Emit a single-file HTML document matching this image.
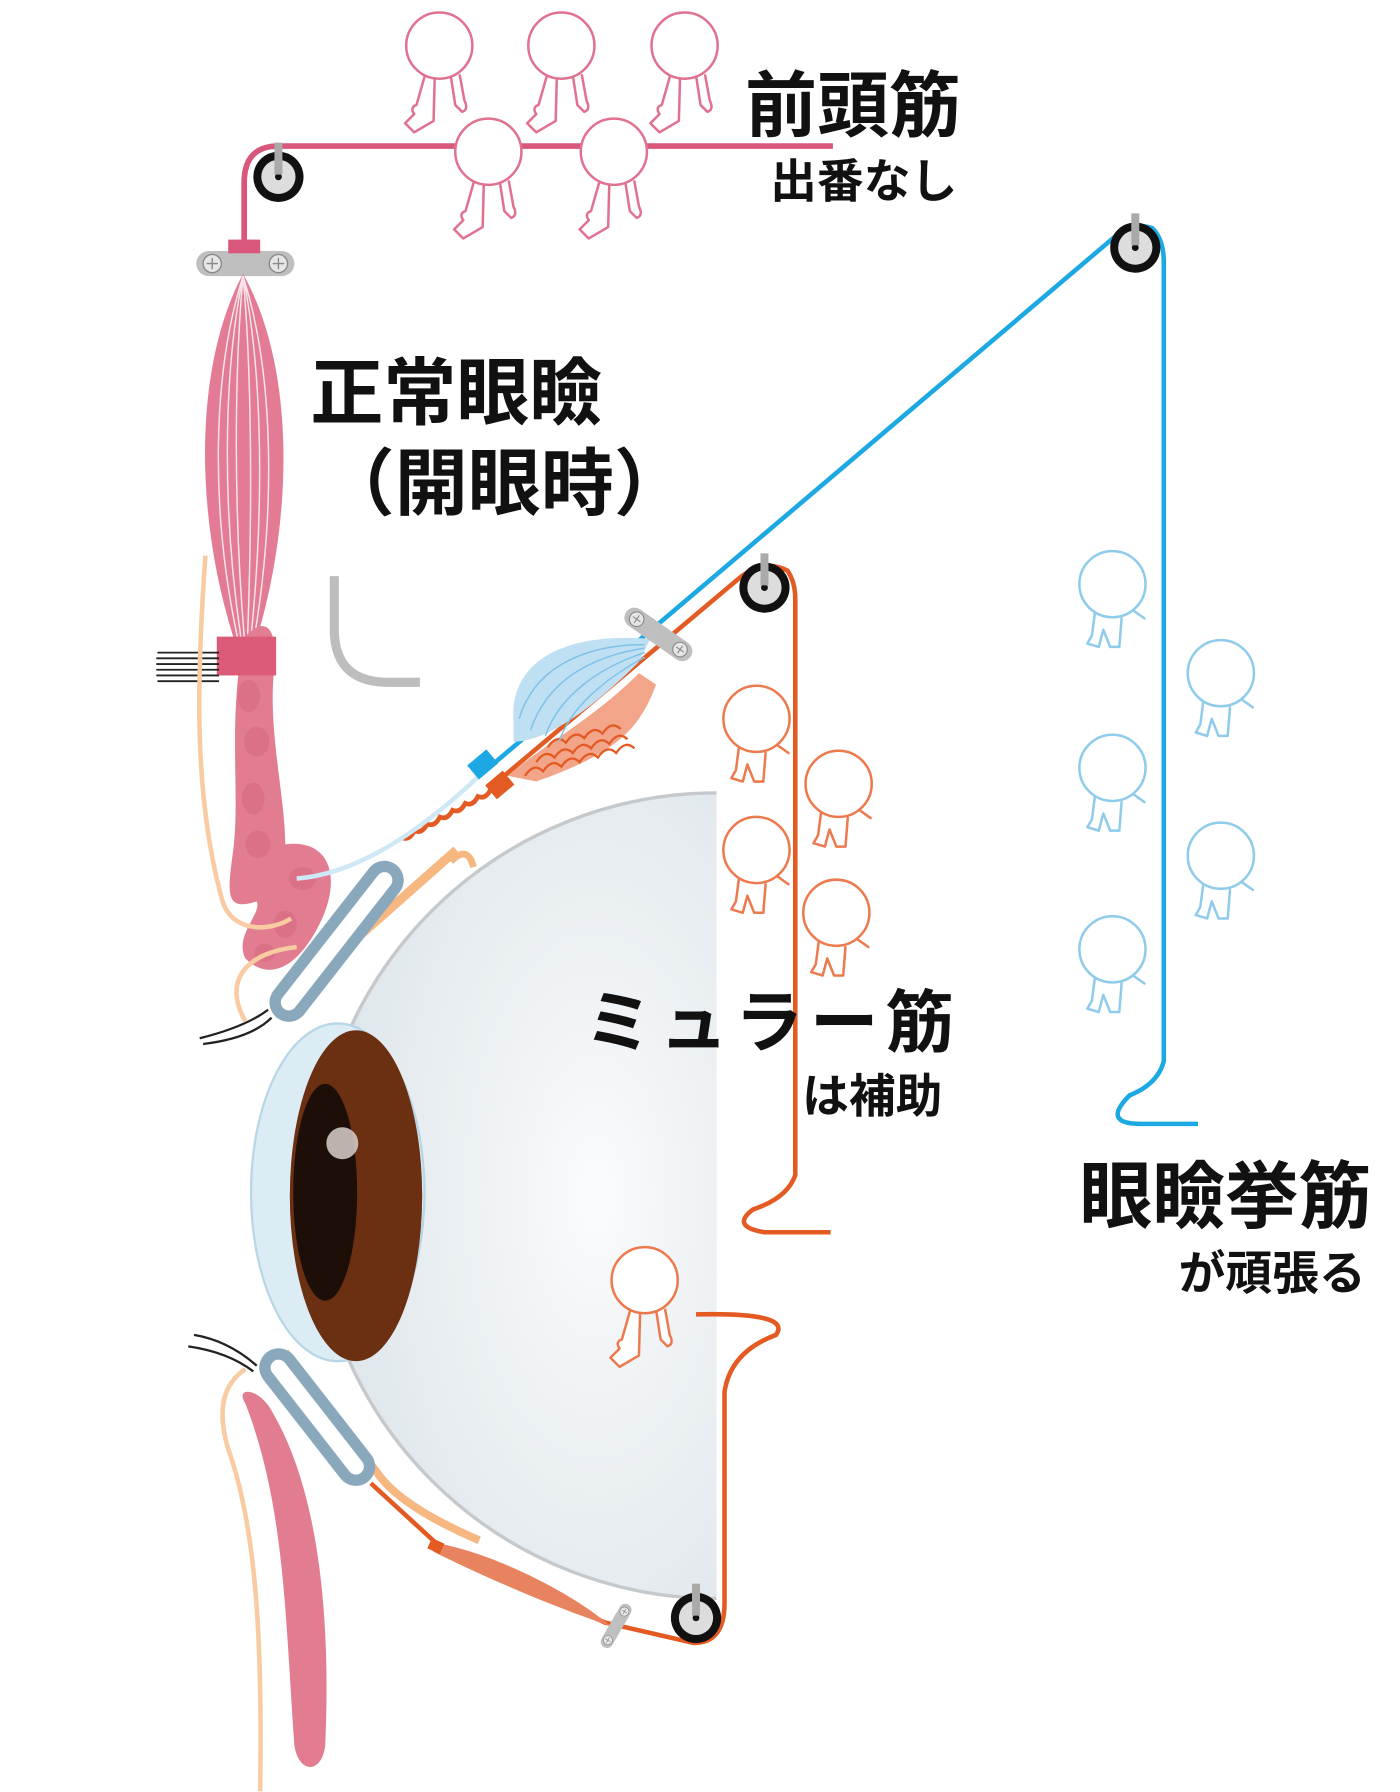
<!DOCTYPE html>
<html><head><meta charset="utf-8"><style>
html,body{margin:0;padding:0;background:#fff;width:1400px;height:1792px;overflow:hidden}
svg{display:block}
text{font-family:"Liberation Sans","Noto Sans CJK JP",sans-serif;font-weight:bold;fill:#111}
</style></head><body>
<svg width="1400" height="1792" viewBox="0 0 1227 1570.6" xmlns="http://www.w3.org/2000/svg">
<defs>
<g id="fig" fill="#fff" stroke-width="2.2" stroke-linejoin="round" stroke-linecap="round">
<path d="M-12 24 L-20 52 Q-26 54 -22 60 L-30 68 L-22 76 L-5 66 L-4 28 M10 26 L14 52 L20 58 Q26 56 22 48 L18 26"/>
<circle cx="0" cy="0" r="29"/>
</g>
<g id="fig2" fill="#fff" stroke-width="2.2" stroke-linejoin="round" stroke-linecap="round">
<path d="M-15 22 L-18 45 L-22 52 L-12 55 L-8 40 L-2 55 L6 55 L8 30 M14 20 L28 30"/>
<circle cx="0" cy="0" r="29"/>
</g>
<g id="clamp"><rect x="-43" y="-11" width="86" height="22" rx="11" fill="#bfbfbf"/><circle cx="-29" cy="0" r="8" fill="#e6e6e6" stroke="#888" stroke-width="1.2"/><circle cx="29" cy="0" r="8" fill="#e6e6e6" stroke="#888" stroke-width="1.2"/><path d="M-34 0h10M-29 -5v10M24 0h10M29 -5v10" stroke="#888" stroke-width="1.2"/></g>
<g id="pulley"><circle r="22" fill="#111"/><circle r="15" fill="#ddd"/><circle r="3" fill="#111"/><rect x="-3.5" y="-30" width="7" height="28" fill="#aaa"/></g>
<radialGradient id="glob" cx="0.7" cy="0.5" r="0.7"><stop offset="0" stop-color="#fafbfc"/><stop offset="1" stop-color="#dde5ea"/></radialGradient>
</defs>

<path d="M730 128 H244 Q214 128 214 160 V215" fill="none" stroke="#d9577a" stroke-width="5"/>
<use href="#pulley" x="244" y="155"/>
<use href="#clamp" x="215" y="231"/>
<rect x="200" y="210" width="28" height="12" fill="#d9577a"/>
<path d="M213 240 C170 320 170 450 205 560 L225 560 C258 450 258 320 213 240Z" fill="#e37b95"/>
<g stroke="#fff" stroke-width="1.3" fill="none" opacity="0.8">
<path d="M213 242 C185 330 185 450 208 558"/><path d="M213 242 C195 330 195 450 211 558"/><path d="M213 242 C205 330 205 450 214 558"/><path d="M213 242 C221 330 221 450 217 558"/><path d="M213 242 C231 330 231 450 220 558"/><path d="M213 242 C241 330 241 450 223 558"/>
</g>
<path d="M213 560 C230 540 245 545 240 590 C235 640 250 700 250 740 C290 735 300 770 280 810 C260 850 235 860 215 840 C205 820 230 800 225 790 C195 800 200 780 205 740 C210 690 200 640 213 560Z" fill="#e27d91"/>
<g fill="#d86a80" opacity="0.6"><ellipse cx="218" cy="610" rx="10" ry="14"/><ellipse cx="225" cy="650" rx="11" ry="13"/><ellipse cx="222" cy="700" rx="10" ry="14"/><ellipse cx="226" cy="740" rx="11" ry="12"/><ellipse cx="265" cy="770" rx="12" ry="10"/><ellipse cx="250" cy="810" rx="10" ry="12"/><ellipse cx="232" cy="835" rx="9" ry="8"/></g>
<rect x="190" y="558" width="52" height="34" fill="#da5a77"/>
<g stroke="#222" stroke-width="1.6">
<path d="M138 572H192M137 577H192M137 582H192M137 587H192M137 592H192M138 597H192"/></g>
<path d="M180 487 C172 600 170 700 195 790 C205 820 240 815 255 805 M260 830 C215 835 195 860 215 895" fill="none" stroke="#f8cba3" stroke-width="4"/>
<path d="M293 505 V555 Q295 598 340 598 H368" fill="none" stroke="#bdbdbd" stroke-width="8"/>

<path d="M628 695 A353 353 0 0 0 628 1401 Z" fill="url(#glob)"/>
<path d="M628 695 A353 353 0 0 0 628 1401" fill="none" stroke="#c5c9cc" stroke-width="3"/>
<ellipse cx="296" cy="1045" rx="76" ry="148" fill="#dcecf4" stroke="#b7d6e6" stroke-width="2"/>
<ellipse cx="312" cy="1048" rx="58" ry="145" fill="#6b2f12"/>
<ellipse cx="285" cy="1045" rx="28" ry="95" fill="#1d0f08"/>
<circle cx="300" cy="1002" r="14" fill="#d8d0cc" opacity="0.85"/>

<path d="M270 860 L400 745" stroke="#f6b781" stroke-width="8" fill="none"/>
<path d="M395 755 Q410 740 415 760" stroke="#f6b781" stroke-width="6" fill="none"/>
<g transform="translate(295 825) rotate(-52)"><rect x="-85" y="-17" width="170" height="34" rx="17" fill="#8aa8bb"/><rect x="-75" y="-7" width="150" height="14" rx="7" fill="#fff"/></g>
<path d="M175 910 Q215 900 235 885 M178 915 Q220 910 238 892" stroke="#222" stroke-width="2" fill="none"/>
<path d="M250 1185 L330 1290 Q350 1320 420 1350" stroke="#f6b781" stroke-width="7" fill="none"/>
<g transform="translate(278 1242) rotate(52)"><rect x="-72" y="-17" width="144" height="34" rx="17" fill="#8aa8bb"/><rect x="-62" y="-7" width="124" height="14" rx="7" fill="#fff"/></g>
<path d="M170 1170 Q200 1175 225 1197 M165 1180 Q200 1185 222 1202" stroke="#222" stroke-width="2" fill="none"/>
<path d="M215 1230 C205 1215 228 1215 240 1240 C280 1310 290 1420 285 1530 C282 1555 262 1555 258 1530 C250 1420 250 1320 215 1230Z" fill="#e27d91"/>
<path d="M215 1200 Q185 1220 200 1270 C225 1340 230 1440 228 1570" stroke="#f8cba3" stroke-width="4" fill="none"/>

<path d="M325 1300 L385 1355 L530 1422 L608 1440 Q635 1440 635 1405 V1220 Q640 1185 680 1170 Q695 1150 610 1152" fill="none" stroke="#e35a22" stroke-width="4"/>
<path d="M380 1352 C430 1360 500 1395 535 1425 C490 1410 430 1385 380 1360Z" fill="#e8835f"/>
<rect x="376" y="1350" width="12" height="10" fill="#e35a22" transform="rotate(25 382 1355)"/>
<g transform="translate(540 1425) rotate(-60) scale(0.5)"><use href="#clamp"/></g>
<use href="#pulley" x="610" y="1418"/>

<path d="M430 690 L650 505 Q670 490 690 500 Q697 510 697 525 V1030 Q690 1050 660 1060 Q640 1075 670 1080 L728 1080" fill="none" stroke="#e35a22" stroke-width="4"/>
<path d="M445 680 C480 650 520 630 560 590 L575 600 C560 640 540 660 470 685Z" fill="#f3a58a"/>
<g fill="none" stroke="#e35a22" stroke-width="2"><path d="M460 680 q8 -12 16 -4 q8 -12 16 -4 q8 -12 16 -4 q8 -12 16 -4 q8 -12 16 -4 q8 -12 16 -4"/><path d="M470 668 q8 -12 16 -4 q8 -12 16 -4 q8 -12 16 -4 q8 -12 16 -4 q8 -12 16 -4"/><path d="M480 655 q8 -12 16 -4 q8 -12 16 -4 q8 -12 16 -4 q8 -12 16 -4"/></g>
<path d="M430 692 q-6 8 -12 4 q-6 8 -12 4 q-6 8 -12 4 q-6 8 -12 4 q-6 8 -12 4 q-6 8 -12 4 q-6 8 -12 4" fill="none" stroke="#e35a22" stroke-width="4" transform="rotate(-10 430 692)"/>
<rect x="428" y="680" width="20" height="16" fill="#e35a22" transform="rotate(-40 438 688)"/>
<use href="#pulley" x="670" y="515"/>

<path d="M260 770 Q330 765 420 680" fill="none" stroke="#cfe8f6" stroke-width="4"/>
<path d="M420 680 L980 205 Q995 195 1010 200 Q1020 210 1020 230 V930 Q1015 950 990 960 Q965 985 1000 985 L1050 985" fill="none" stroke="#1ca8e2" stroke-width="4"/>
<path d="M450 620 C455 570 510 555 570 560 L560 580 C520 620 480 650 450 650 Z" fill="#bfe0f3"/>
<g fill="none" stroke="#7fc2e8" stroke-width="1.3"><path d="M565 565 C520 565 470 580 455 630"/><path d="M565 568 C520 575 480 595 465 640"/><path d="M565 572 C525 585 490 610 478 645"/><path d="M565 576 C530 595 500 620 490 650"/></g>
<rect x="412" y="662" width="22" height="16" fill="#1ca8e2" transform="rotate(-40 423 670)"/>
<g transform="translate(577 556) rotate(35) scale(0.8)"><use href="#clamp"/></g>
<use href="#pulley" x="995" y="217"/>

<g stroke="#e07290"><use href="#fig" x="385" y="40"/><use href="#fig" x="492" y="40"/><use href="#fig" x="600" y="40"/><use href="#fig" x="428" y="133"/><use href="#fig" x="538" y="133"/></g>
<g stroke="#ec7a4e"><use href="#fig2" x="663" y="630"/><use href="#fig2" x="735" y="687"/><use href="#fig2" x="663" y="745"/><use href="#fig2" x="733" y="800"/><use href="#fig" x="565" y="1122"/></g>
<g stroke="#8fcbea"><use href="#fig2" x="975" y="512"/><use href="#fig2" x="1070" y="590"/><use href="#fig2" x="975" y="673"/><use href="#fig2" x="1070" y="750"/><use href="#fig2" x="975" y="832"/></g>

<text x="653" y="115" font-size="63">前頭筋</text>
<text x="675" y="173" font-size="41">出番なし</text>
<text x="272" y="367" font-size="64">正常眼瞼</text>
<text x="282" y="446" font-size="64">（開眼時）</text>
<text x="512" y="917" font-size="60" letter-spacing="6">ミュラー筋</text>
<text x="703" y="975" font-size="41">は補助</text>
<text x="946" y="1071" font-size="64">眼瞼挙筋</text>
<text x="1033" y="1130" font-size="41">が頑張る</text>
</svg>
</body></html>
